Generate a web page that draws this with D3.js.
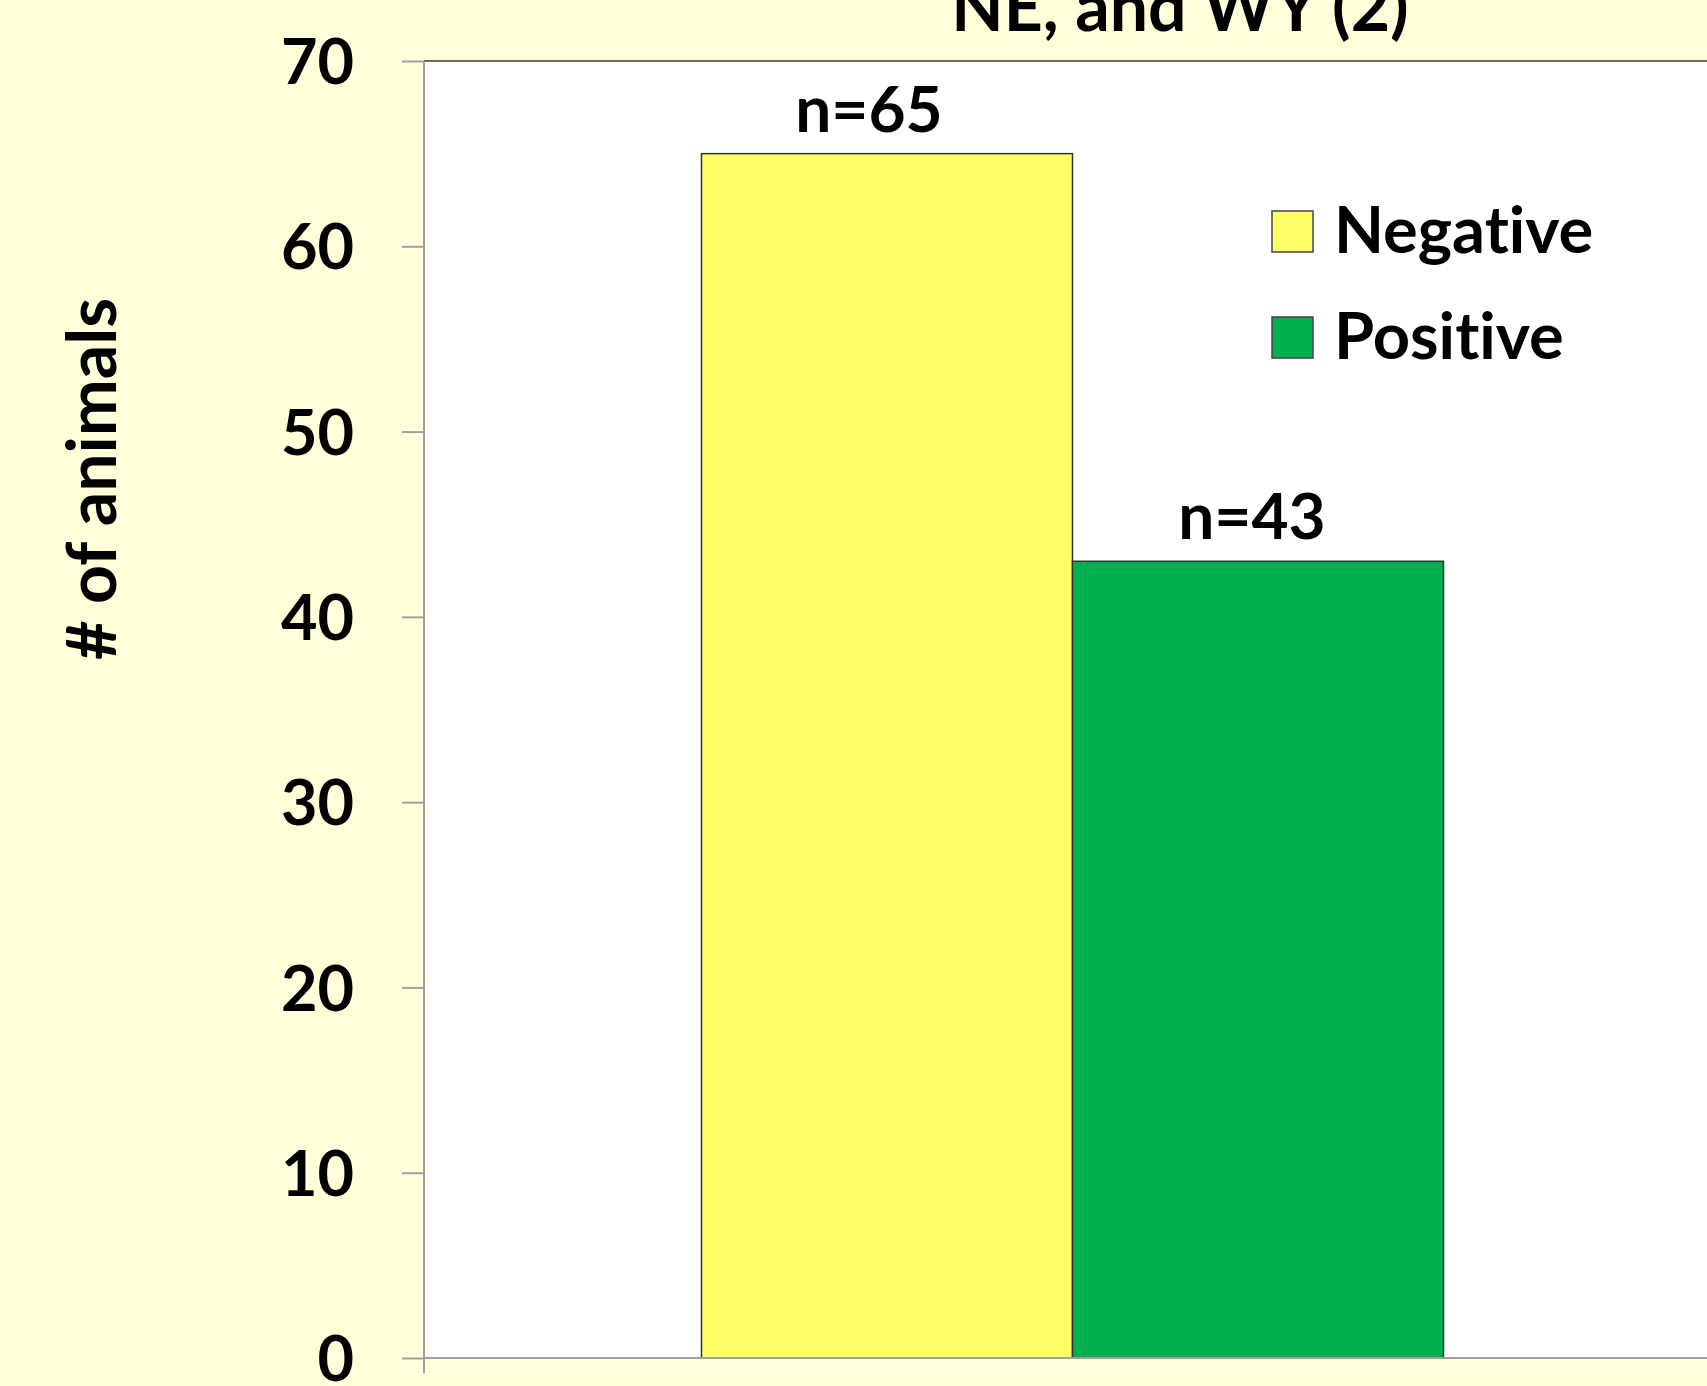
<!DOCTYPE html>
<html><head><meta charset="utf-8">
<script src="https://cdn.jsdelivr.net/npm/d3@7"></script>
<style>html,body{margin:0;padding:0;background:#FFFFDA;overflow:hidden}</style>
</head><body>
<script>
const categories = [""];
const seriesNames = ["Negative", "Positive"];
const seriesValues = [65, 43];
const seriesColors = ["#FFFF66", "#00B050"];
const valueLabels = ["n=65", "n=43"];
const yTicks = [0, 10, 20, 30, 40, 50, 60, 70];
const titleLines = ["NE, and WY (2)"];
const yTitle = "# of animals";

(function () {
const W = 1707, H = 1386;
const font = "Lato, 'Open Sans', sans-serif";
const svg = d3.select("body").append("svg").attr("width", W).attr("height", H)
  .style("font-family", font).style("font-weight", "bold").style("display", "block")
  .style("font-variant-ligatures", "none");
svg.append("rect").attr("width", W).attr("height", H).attr("fill", "#FFFFDA");

const pLeft = 424, pRight = 1721, pTop = 61, pBottom = 1358;
const y = d3.scaleLinear().domain([0, 70]).range([pBottom, pTop]);
const x0 = d3.scaleBand().domain(categories).range([pLeft, pRight]).paddingInner(0).paddingOuter(0.374);
const x1 = d3.scaleBand().domain(seriesNames).range([0, x0.bandwidth()]).padding(0);

// plot area
svg.append("rect").attr("x", pLeft).attr("y", pTop).attr("width", pRight - pLeft).attr("height", pBottom - pTop)
  .attr("fill", "#fff");
svg.append("line").attr("x1", pLeft).attr("x2", pRight).attr("y1", pTop).attr("y2", pTop)
  .attr("stroke", "#6b6b5a").attr("stroke-width", 2);

// bars
const g = svg.append("g").attr("transform", `translate(${x0(categories[0])},0)`);
g.selectAll("rect.bar").data(seriesValues).join("rect").attr("class", "bar")
  .attr("x", (d, i) => x1(seriesNames[i]))
  .attr("y", d => y(d))
  .attr("width", x1.bandwidth())
  .attr("height", d => y(0) - y(d))
  .attr("fill", (d, i) => seriesColors[i])
  .attr("stroke", "#333").attr("stroke-width", 1.5);
const labelOffsets = [-18, -6];
g.selectAll("text.vl").data(seriesValues).join("text").attr("class", "vl")
  .attr("x", (d, i) => x1(seriesNames[i]) + x1.bandwidth() / 2 + labelOffsets[i])
  .attr("y", d => y(d) - 22)
  .attr("text-anchor", "middle").attr("font-size", 64).attr("fill", "#000")
  .text((d, i) => valueLabels[i]);

// y axis
const yAxis = d3.axisLeft(y).tickValues(yTicks).tickSize(22).tickPadding(48);
const ya = svg.append("g").attr("transform", `translate(${pLeft},0)`).call(yAxis);
ya.select(".domain").attr("stroke", "#a0a0a0").attr("stroke-width", 2).attr("d", `M0,${pTop}V${pBottom + 15}`);
ya.selectAll(".tick line").attr("stroke", "#a0a0a0").attr("stroke-width", 2);
ya.selectAll(".tick text").attr("font-size", 63).attr("font-family", font).attr("font-weight", "bold").attr("fill", "#000").attr("dy", "0.36em");

// x axis baseline
svg.append("line").attr("x1", pLeft).attr("x2", W).attr("y1", y(0)).attr("y2", y(0))
  .attr("stroke", "#a0a0a0").attr("stroke-width", 2);

// y title
svg.append("text").attr("transform", `translate(116,479) rotate(-90)`)
  .attr("text-anchor", "middle").attr("font-size", 68).attr("fill", "#000").text(yTitle);

// title
svg.selectAll("text.title").data(titleLines).join("text").attr("class", "title")
  .attr("x", 1180).attr("y", (d, i) => 31 - (titleLines.length - 1 - i) * 78)
  .attr("text-anchor", "middle").attr("font-size", 68).attr("fill", "#000").text(d => d);

// legend
const lg = svg.append("g");
seriesNames.forEach((s, i) => {
  const yy = 211 + i * 106;
  lg.append("rect").attr("x", 1272).attr("y", yy).attr("width", 41).attr("height", 41)
    .attr("fill", seriesColors[i]).attr("stroke", "#444").attr("stroke-width", 1.5);
  lg.append("text").attr("x", 1334).attr("y", yy + 42).attr("font-size", 65).attr("fill", "#000").text(s);
});
})();
</script>
</body></html>
